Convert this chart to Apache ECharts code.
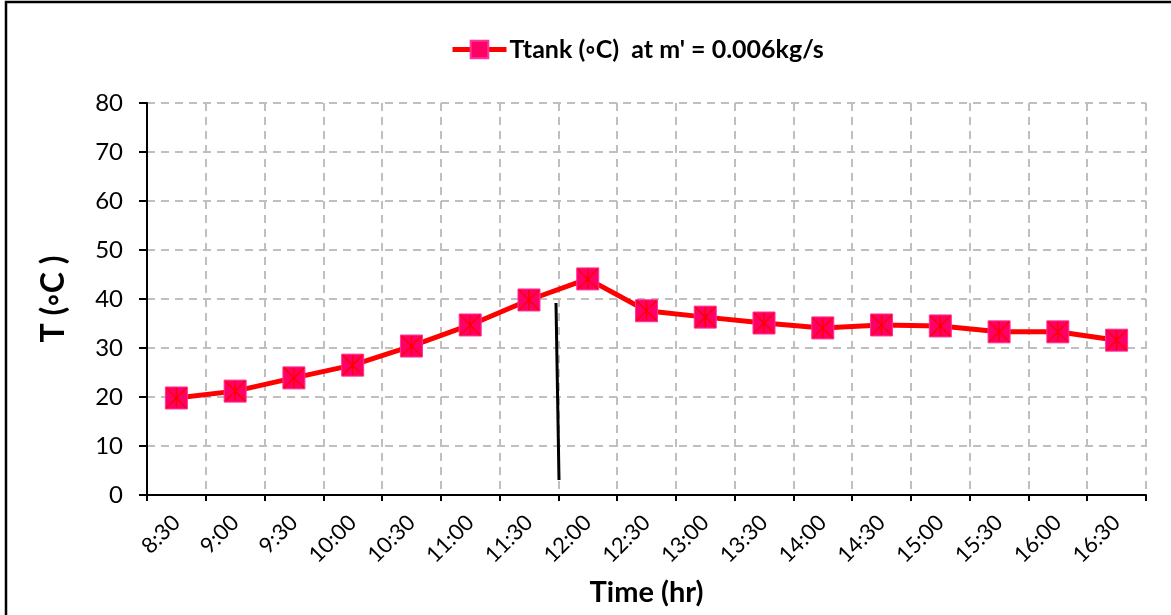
<!DOCTYPE html>
<html>
<head>
    <meta charset="utf-8">
    <script src="https://cdn.jsdelivr.net/npm/echarts@6/dist/echarts.min.js"></script>
</head>
<body style="margin:0;background:#fff;">
    <div id="main" style="width: 1171px;height:615px;"></div>
    <script type="text/javascript">
        // half-hour readings, tank temperature
        var times = ['8:30', '9:00', '9:30', '10:00', '10:30', '11:00', '11:30', '12:00', '12:30',
            '13:00', '13:30', '14:00', '14:30', '15:00', '15:30', '16:00', '16:30'];
        var tTank = [19.8, 21.2, 23.9, 26.5, 30.4, 34.7, 39.8, 44.1, 37.6, 36.3, 35.1, 34.1, 34.7, 34.5, 33.3, 33.3, 31.6];
        var yTicks = [0, 10, 20, 30, 40, 50, 60, 70, 80];

        var font = 'Lato, "Open Sans", sans-serif';
        var seriesName = "Ttank (\u25E6C)  at m' = 0.006kg/s";
        var myChart = echarts.init(document.getElementById('main'));

        var option = {
            backgroundColor: '#fff',
            animation: false,
            textStyle: { fontFamily: font },
            legend: {
                top: 32,
                left: 445,
                itemWidth: 54,
                itemHeight: 22,
                itemGap: 4,
                data: [seriesName],
                lineStyle: { width: 5 },
                textStyle: { fontSize: 25, fontWeight: 'bold', color: '#000', fontFamily: font, padding: [0, 0, 0, -2] }
            },
            grid: { left: 147, right: 25, top: 103, bottom: 120 },
            xAxis: {
                type: 'category',
                data: times,
                boundaryGap: true,
                name: 'Time (hr)',
                nameLocation: 'middle',
                nameGap: 83,
                nameTextStyle: { fontSize: 29, fontWeight: 'bold', color: '#000', fontFamily: font },
                axisLine: { lineStyle: { color: '#000', width: 2 } },
                axisTick: { show: true, length: 6, lineStyle: { color: '#000', width: 2 } },
                axisLabel: { rotate: 45, fontSize: 22, color: '#000', margin: 24, interval: 0 },
                splitLine: { show: true, lineStyle: { color: '#bfbfbf', type: [8, 6], width: 2 } }
            },
            yAxis: {
                type: 'value',
                min: yTicks[0],
                max: yTicks[yTicks.length - 1],
                interval: 10,
                name: 'T (\u25E6C )',
                nameLocation: 'middle',
                nameGap: 77,
                nameTextStyle: { fontSize: 32, fontWeight: 'bold', color: '#000', fontFamily: font },
                axisLine: { show: true, lineStyle: { color: '#000', width: 2 } },
                axisTick: { show: true, length: 8, lineStyle: { color: '#000', width: 2 } },
                axisLabel: { fontSize: 24, color: '#000', margin: 24 },
                splitLine: { show: true, lineStyle: { color: '#bfbfbf', type: [8, 6], width: 2 } }
            },
            series: [{
                name: seriesName,
                type: 'line',
                data: tTank,
                symbol: 'rect',
                symbolSize: 22,
                lineStyle: { color: '#ff0000', width: 5 },
                itemStyle: { color: '#ff0066', borderColor: '#ff3399', borderWidth: 1 },
                z: 3
            }, {
                name: 'star',
                type: 'line',
                data: tTank,
                symbol: 'path://M0,0L10,10M10,0L0,10M5,0L5,10',
                symbolSize: 20,
                showSymbol: true,
                lineStyle: { width: 0, opacity: 0 },
                itemStyle: { color: 'none', borderColor: '#ff0000', borderWidth: 1.5 },
                silent: true,
                z: 4
            }],
            graphic: [{
                type: 'rect',
                shape: { x: 6, y: 2, width: 1300, height: 800 },
                style: { fill: 'none', stroke: '#000', lineWidth: 2.5 },
                silent: true
            }, {
                type: 'line',
                shape: { x1: 556, y1: 303, x2: 559, y2: 480 },
                style: { stroke: '#000', lineWidth: 3 },
                z: 100
            }]
        };
        myChart.setOption(option);
    </script>
</body>
</html>
